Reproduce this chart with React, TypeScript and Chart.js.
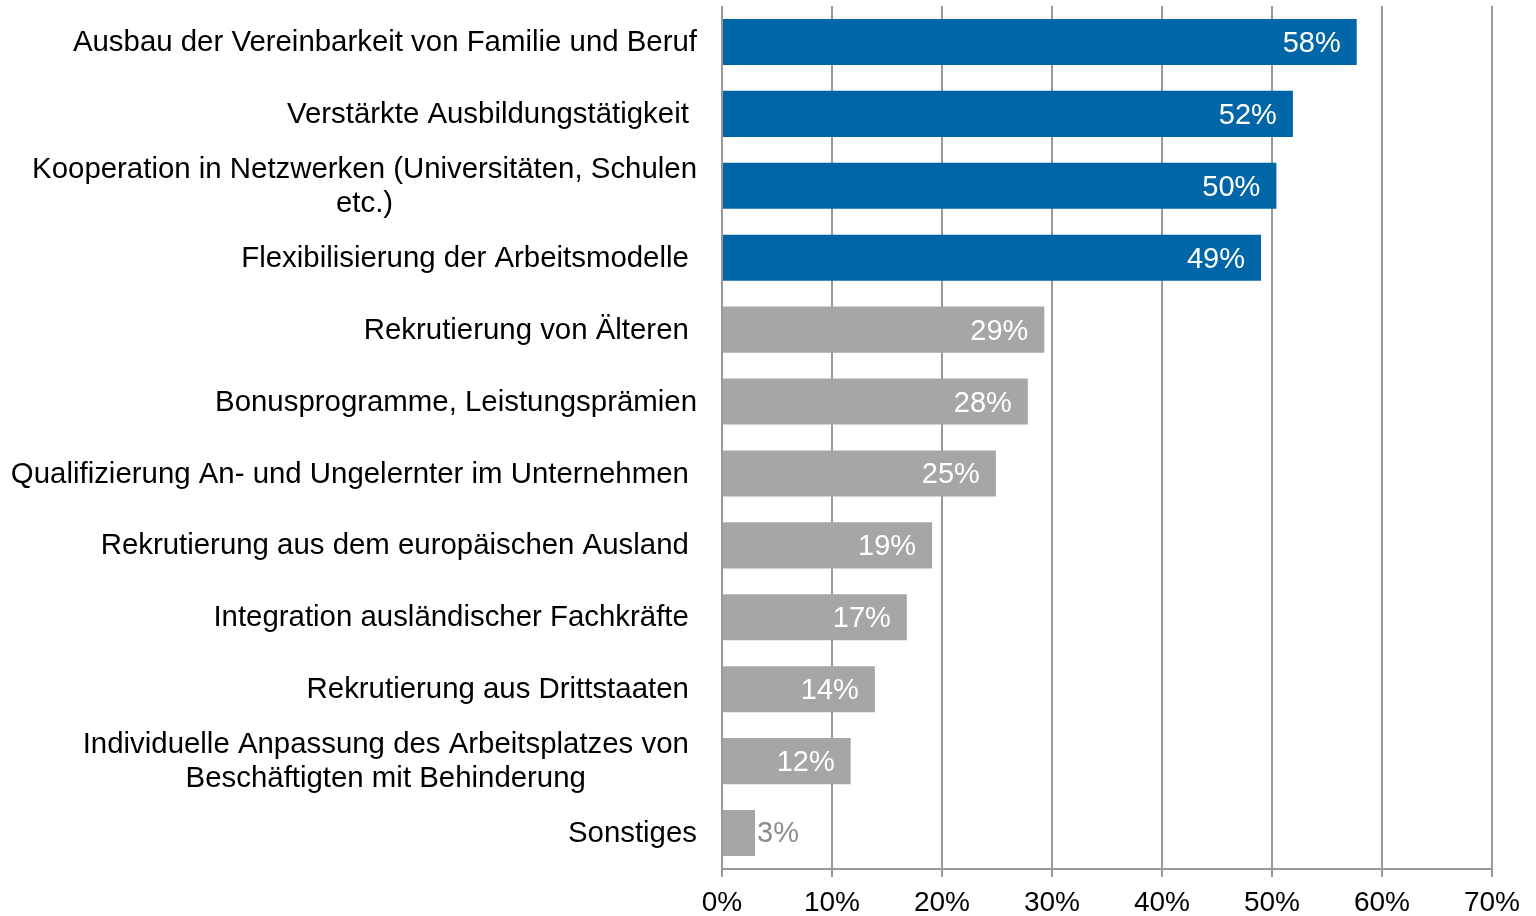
import React, { useEffect, useRef } from "react";
import { Chart, registerables } from "chart.js";

Chart.register(...registerables);

const categories: string[][] = [
  ["Ausbau der Vereinbarkeit von Familie und Beruf"],
  ["Verstärkte Ausbildungstätigkeit "],
  ["Kooperation in Netzwerken (Universitäten, Schulen", "etc.)"],
  ["Flexibilisierung der Arbeitsmodelle "],
  ["Rekrutierung von Älteren "],
  ["Bonusprogramme, Leistungsprämien"],
  ["Qualifizierung An- und Ungelernter im Unternehmen "],
  ["Rekrutierung aus dem europäischen Ausland "],
  ["Integration ausländischer Fachkräfte "],
  ["Rekrutierung aus Drittstaaten "],
  ["Individuelle Anpassung des Arbeitsplatzes von ", "Beschäftigten mit Behinderung"],
  ["Sonstiges"],
];

const values: number[] = [57.7, 51.9, 50.4, 49.0, 29.3, 27.8, 24.9, 19.1, 16.8, 13.9, 11.7, 3.0];

const highlightedCount = 4;

const xTicks: number[] = [0, 10, 20, 30, 40, 50, 60, 70];

const BLUE = "#0066A8";
const GRAY = "#A6A6A6";
const FONT = "'Liberation Sans', Arial, sans-serif";

const labelPlugin = {
  id: "customLabels",
  afterDraw(chart: any) {
    const ctx = chart.ctx;
    const yScale = chart.scales.y;
    const area = chart.chartArea;
    ctx.save();
    ctx.font = `29.4px ${FONT}`;
    ctx.fillStyle = "#000";
    ctx.textBaseline = "middle";
    const rightEdge = area.left - 25;
    const lineH = 34;
    categories.forEach((lines, i) => {
      const yc = yScale.getPixelForValue(i);
      const full = lines.map((l) => ctx.measureText(l).width);
      const trimmed = lines.map((l) => ctx.measureText(l.trimEnd()).width);
      let wi = 0;
      full.forEach((w, k) => {
        if (w > full[wi]) wi = k;
      });
      const blockRight = rightEdge - (full[wi] - trimmed[wi]);
      const blockW = trimmed[wi];
      const cx = blockRight - blockW / 2;
      const y0 = yc - ((lines.length - 1) * lineH) / 2;
      lines.forEach((l, j) => {
        ctx.textAlign = "center";
        ctx.fillText(l.trimEnd(), cx, y0 + j * lineH + 1);
      });
    });
    // value labels
    const meta = chart.getDatasetMeta(0);
    ctx.font = `29px ${FONT}`;
    meta.data.forEach((bar: any, i: number) => {
      const v = values[i];
      const txt = Math.round(v) + "%";
      if (v > 6) {
        ctx.fillStyle = "#FFFFFF";
        ctx.textAlign = "right";
        ctx.fillText(txt, bar.x - 16, bar.y + 2);
      } else {
        ctx.fillStyle = "#8C8C8C";
        ctx.textAlign = "left";
        ctx.fillText(txt, bar.x + 2, bar.y + 1);
      }
    });
    ctx.restore();
  },
};

export default function App() {
  const ref = useRef<HTMLCanvasElement | null>(null);
  useEffect(() => {
    if (!ref.current) return;
    const chart = new Chart(ref.current, {
      type: "bar",
      data: {
        labels: categories.map((c) => c.join(" ")),
        datasets: [
          {
            data: values,
            backgroundColor: values.map((_, i) => (i < highlightedCount ? BLUE : GRAY)),
            categoryPercentage: 1,
            barPercentage: 0.64,
          },
        ],
      },
      options: {
        indexAxis: "y",
        responsive: false,
        animation: false,
        devicePixelRatio: 1,
        layout: { padding: { top: 6, right: 44, bottom: 0, left: 0 } },
        plugins: { legend: { display: false }, tooltip: { enabled: false } },
        scales: {
          x: {
            min: 0,
            max: 70,
            afterBuildTicks: (scale: any) => {
              scale.ticks = xTicks.map((v) => ({ value: v }));
            },
            afterFit: (scale: any) => {
              scale.height = 47;
            },
            grid: { color: "#999999", lineWidth: 2, tickLength: 8, drawTicks: true },
            border: { display: true, color: "#999999", width: 2 },
            ticks: {
              callback: (v: any) => v + "%",
              color: "#000",
              font: { size: 28, family: FONT },
              padding: 9,
              maxRotation: 0,
            },
          },
          y: {
            afterFit: (scale: any) => {
              scale.width = 722;
            },
            grid: { display: false },
            border: { display: false },
            ticks: { display: false },
          },
        },
      },
      plugins: [labelPlugin],
    } as any);
    return () => chart.destroy();
  }, []);
  return (
    <div style={{ position: "fixed", left: 0, top: 0, width: 1536, height: 916, background: "#fff" }}>
      <canvas ref={ref} width={1536} height={916} style={{ width: 1536, height: 916, display: "block" }} />
    </div>
  );
}
